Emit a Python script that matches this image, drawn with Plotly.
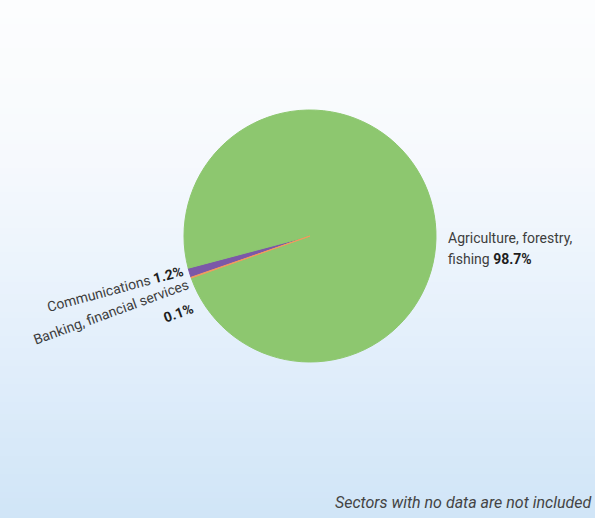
import plotly.graph_objects as go

# ---- data ----
sectors = ["Communications", "Agriculture, forestry, fishing", "Banking, financial services"]
shares = [1.2, 98.7, 0.1]
share_labels = {"Communications": "1.2%", "Agriculture, forestry, fishing": "98.7%",
                "Banking, financial services": "0.1%"}
note = "Sectors with no data are not included"

# ---- style ----
colors = ["#7b58a8", "#8dc76f", "#f39a5e"]
W, H = 595, 518
FONT = "Roboto, Liberation Sans, sans-serif"
TXT = "#3d3d3d"
DARK = "#1e1e1e"

fig = go.Figure()

fig.add_trace(go.Pie(
    labels=sectors,
    values=shares,
    sort=False,
    direction="clockwise",
    rotation=-109.14,
    marker=dict(colors=colors, line=dict(width=1, color=colors)),
    textinfo="none",
    hoverinfo="label+percent",
    showlegend=False,
    domain=dict(x=[184 / W, 436 / W], y=[156 / H, 408 / H]),
))

# background gradient (white top -> light blue bottom)
stops = [(0, (252, 253, 254)), (100, (249, 251, 253)), (160, (246, 249, 253)),
         (260, (236, 244, 252)), (390, (222, 236, 250)), (518, (208, 229, 247))]


def col_at(yp):
    for (y0, c0), (y1, c1) in zip(stops[:-1], stops[1:]):
        if y0 <= yp <= y1:
            t = (yp - y0) / (y1 - y0)
            return "rgb(%d,%d,%d)" % tuple(round(a + (b - a) * t) for a, b in zip(c0, c1))
    return "rgb(%d,%d,%d)" % stops[-1][1]


shapes = []
step = 6
for y in range(0, H, step):
    shapes.append(dict(type="rect", xref="paper", yref="paper", layer="below",
                       x0=0, x1=1, y0=max(0, 1 - (y + step + 1) / H), y1=1 - y / H,
                       fillcolor=col_at(y + step / 2), line=dict(width=0)))


def px(x, y):
    return x / W, 1 - y / H


def ann(x, y, text, size=14, color=TXT, angle=0, xanchor="center", italic=False):
    ax, ay = px(x, y)
    return dict(x=ax, y=ay, xref="paper", yref="paper", xanchor=xanchor, yanchor="middle",
                showarrow=False, textangle=angle, text=text,
                font=dict(family=FONT, size=size, color=color,
                          style="italic" if italic else "normal"))


bold = "<b><span style='color:%s'>%%s</span></b>" % DARK

annotations = [
    # right label (Agriculture), two lines
    ann(446, 238, "Agriculture, forestry,", xanchor="left"),
    ann(446, 259, "fishing " + bold % share_labels["Agriculture, forestry, fishing"], xanchor="left"),
    # Communications
    ann(115, 289, "Communications " + bold % share_labels["Communications"], angle=-15),
    # Banking
    ann(111, 312, "Banking, financial services", angle=-20),
    ann(178, 312.5, "<b>%s</b>" % share_labels["Banking, financial services"], color=DARK, angle=-20),
    # footnote
    ann(593, 502, note, size=16, color="#444444", xanchor="right", italic=True),
]

fig.update_layout(
    width=W, height=H,
    margin=dict(l=0, r=0, t=0, b=0),
    paper_bgcolor="#fcfdfe",
    plot_bgcolor="rgba(0,0,0,0)",
    shapes=shapes,
    annotations=annotations,
)

fig.write_html("out.html", config={"displayModeBar": False},
               post_script="document.body.style.margin='0';")
